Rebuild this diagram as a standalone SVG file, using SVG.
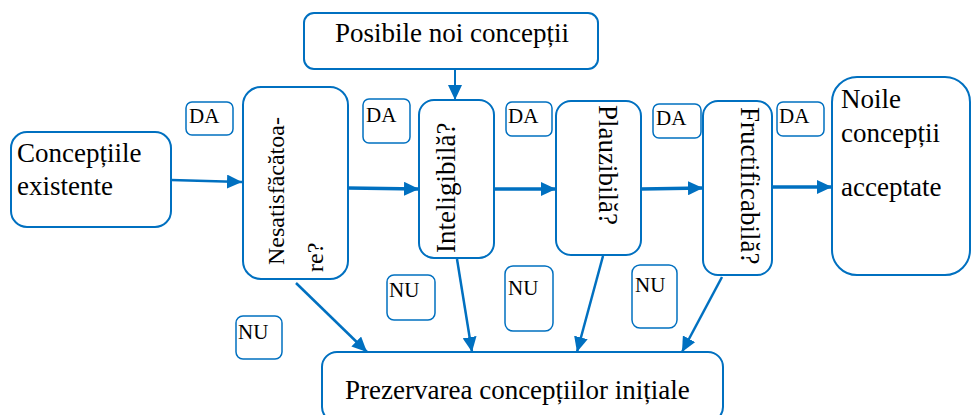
<svg xmlns="http://www.w3.org/2000/svg" width="971" height="415" viewBox="0 0 971 415">
  <style>
    .box { fill: #ffffff; stroke: #0070C0; stroke-width: 2; }
    .tag { fill: #ffffff; stroke: #0070C0; stroke-width: 1.5; }
    .t { font-family: "Liberation Serif", "Times New Roman", serif; font-size: 27px; fill: #000000; }
    .n { font-size: 24px; }
    .s { font-family: "Liberation Serif", "Times New Roman", serif; font-size: 21px; fill: #000000; }
    .link { fill: none; stroke: #0070C0; stroke-width: 2.5; marker-end: url(#arrow); }
    .main { stroke-width: 3.5; }
  </style>
  <defs>
    <marker id="arrow" markerUnits="userSpaceOnUse" markerWidth="16" markerHeight="14" refX="15" refY="7" orient="auto">
      <path d="M0,0 L15,7 L0,14 z" fill="#0070C0"/>
    </marker>
  </defs>

  <!-- connectors -->
  <g id="connectors">
    <line class="link" x1="171" y1="180" x2="242" y2="182"/>
    <line class="link main" x1="348" y1="188" x2="419" y2="189"/>
    <line class="link main" x1="494" y1="189" x2="556" y2="189"/>
    <line class="link main" x1="641" y1="189" x2="703" y2="188"/>
    <line class="link main" x1="772" y1="187" x2="832" y2="187"/>
    <line class="link" style="stroke-width:2" x1="455" y1="69" x2="455" y2="100"/>
    <line class="link" x1="296" y1="283" x2="367" y2="352"/>
    <line class="link" x1="457" y1="259" x2="472" y2="352"/>
    <line class="link" x1="603" y1="256" x2="577" y2="352"/>
    <line class="link" x1="722" y1="277" x2="682" y2="352"/>
  </g>

  <g id="conceptiile-existente">
    <rect class="box" x="11" y="132" width="160" height="95" rx="16"/>
    <text class="t" x="17" y="162">Concepțiile</text>
    <text class="t" x="17" y="195">existente</text>
  </g>

  <g id="posibile-noi-conceptii">
    <rect class="box" x="304" y="13" width="294" height="56" rx="10"/>
    <text class="t" x="335" y="42">Posibile noi concepții</text>
  </g>

  <g id="nesatisfacatoare">
    <rect class="box" x="243" y="87" width="105" height="192" rx="18"/>
    <text class="t n" transform="translate(284,265) rotate(-90)">Nesatisfăcătoa-</text>
    <text class="t n" transform="translate(323,272) rotate(-90)">re?</text>
  </g>

  <g id="inteligibila">
    <rect class="box" x="419" y="100" width="75" height="158" rx="15"/>
    <text class="t" transform="translate(455,253) rotate(-90)">Inteligibilă?</text>
  </g>

  <g id="plauzibila">
    <rect class="box" x="556" y="101" width="85" height="154" rx="15"/>
    <text class="t" transform="translate(599,105) rotate(90)">Plauzibilă?</text>
  </g>

  <g id="fructificabila">
    <rect class="box" x="703" y="101" width="69" height="174" rx="15"/>
    <text class="t" transform="translate(741,107) rotate(90)">Fructificabilă?</text>
  </g>

  <g id="noile-conceptii">
    <rect class="box" x="832" y="77" width="138" height="198" rx="25"/>
    <text class="t" x="841" y="108">Noile</text>
    <text class="t" x="841" y="142">concepții</text>
    <text class="t" x="841" y="196">acceptate</text>
  </g>

  <g id="prezervarea">
    <rect class="box" x="322" y="352" width="401" height="70" rx="15"/>
    <text class="t" x="345" y="399">Prezervarea concepțiilor inițiale</text>
  </g>

  <!-- DA labels -->
  <g id="da-1"><rect class="tag" x="186" y="102" width="47" height="33" rx="6"/><text class="s" x="189" y="123">DA</text></g>
  <g id="da-2"><rect class="tag" x="363" y="99" width="47" height="44" rx="6"/><text class="s" x="366" y="122">DA</text></g>
  <g id="da-3"><rect class="tag" x="506" y="102" width="46" height="34" rx="6"/><text class="s" x="508" y="123">DA</text></g>
  <g id="da-4"><rect class="tag" x="653" y="104" width="48" height="34" rx="6"/><text class="s" x="656" y="125">DA</text></g>
  <g id="da-5"><rect class="tag" x="777" y="102" width="47" height="34" rx="6"/><text class="s" x="779" y="123">DA</text></g>

  <!-- NU labels -->
  <g id="nu-1"><rect class="tag" x="236" y="316" width="46" height="43" rx="7"/><text class="s" x="238" y="339">NU</text></g>
  <g id="nu-2"><rect class="tag" x="387" y="275" width="48" height="45" rx="7"/><text class="s" x="389" y="297">NU</text></g>
  <g id="nu-3"><rect class="tag" x="505" y="266" width="48" height="65" rx="8"/><text class="s" x="508" y="295">NU</text></g>
  <g id="nu-4"><rect class="tag" x="632" y="265" width="45" height="63" rx="8"/><text class="s" x="635" y="292">NU</text></g>
</svg>
